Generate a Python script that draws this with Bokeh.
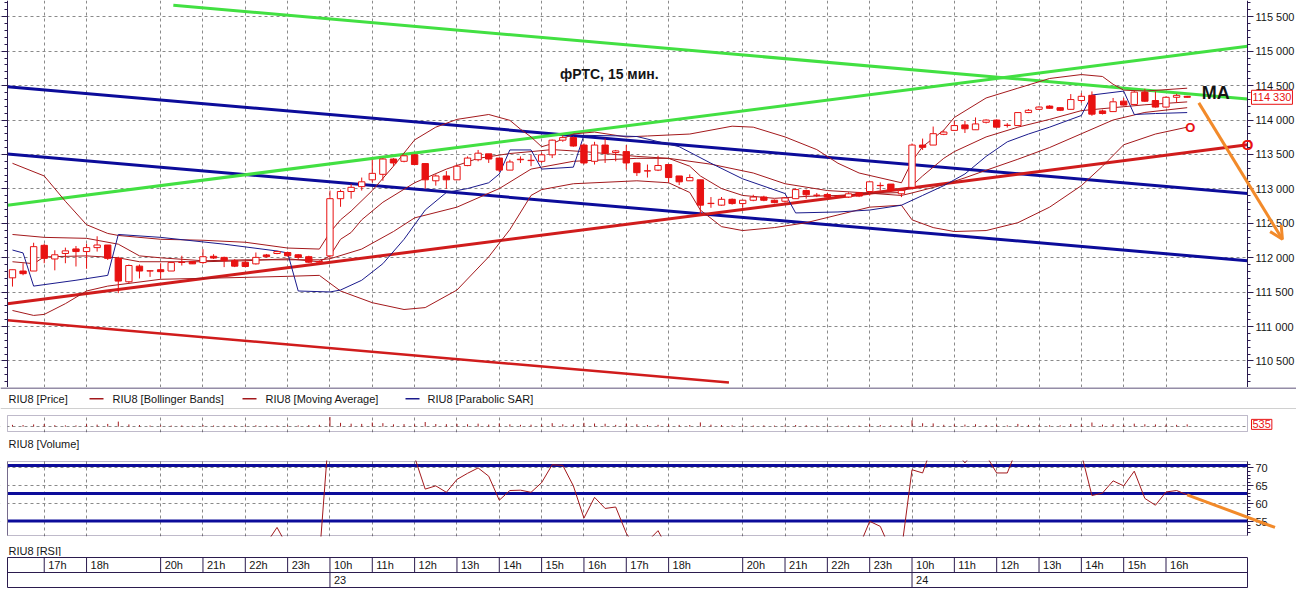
from bokeh.plotting import figure
from bokeh.layouts import column
from bokeh.models import (Range1d, FixedTicker, SingleIntervalTicker, CustomJSTickFormatter,
                          Label, Span, Arrow, OpenHead, LinearAxis, BoxAnnotation)
from bokeh.core.properties import value
from bokeh.embed import file_html
from bokeh.resources import INLINE

FONT = "Liberation Sans"

# ---------------- data ----------------
bars = list(range(112))
opens = [111707, 111806, 111806, 112179, 111981, 112061, 112127, 112089, 112146, 112184,
         111990, 111650, 111877, 111806, 111825, 111806, 111930, 111943, 111929, 112020,
         112004, 111957, 111933, 111910, 112040, 112061, 112075, 112042, 112014, 111934,
         112026, 112857, 112961, 113032, 113131, 113211, 113433, 113400, 113494, 113367,
         113117, 113187, 113131, 113338, 113423, 113508, 113447, 113272, 113423, 113410,
         113400, 113494, 113707, 113744, 113636, 113400, 113636, 113527, 113541, 113376,
         113260, 113272, 113353, 113187, 113117, 113131, 112786, 112763, 112848, 112786,
         112834, 112881, 112834, 112820, 112857, 112975, 112905, 112918, 112890, 112881,
         112942, 112961, 113046, 113069, 112928, 113022, 113636, 113636, 113792, 113849,
         113929, 113858, 113967, 113999, 113920, 113919, 114108, 114155, 114202, 114179,
         114155, 114283, 114358, 114132, 114122, 114274, 114226, 114405, 114283, 114188,
         114330, 114344]
highs = [111825, 111919, 112217, 112203, 112108, 112146, 112170, 112203, 112311, 112184,
         112014, 111901, 111901, 111816, 111919, 111929, 112028, 111943, 112122, 112050,
         112014, 111980, 111960, 112075, 112054, 112099, 112089, 112050, 112028, 111960,
         112975, 112989, 113069, 113164, 113423, 113447, 113447, 113494, 113504, 113367,
         113211, 113258, 113353, 113471, 113565, 113508, 113447, 113423, 113471, 113494,
         113527, 113716, 113777, 113763, 113659, 113683, 113730, 113565, 113636, 113376,
         113353, 113480, 113353, 113187, 113211, 113131, 112881, 112881, 112860, 112840,
         112914, 112900, 112845, 112880, 113008, 112990, 112940, 112940, 112910, 112950,
         112955, 113102, 113093, 113069, 112990, 113659, 113730, 113905, 113850, 113990,
         113990, 114037, 114010, 114010, 113955, 114108, 114160, 114200, 114215, 114185,
         114377, 114391, 114415, 114150, 114320, 114320, 114424, 114453, 114415, 114344,
         114380, 114350]
lows = [111580, 111745, 111806, 111919, 111816, 111919, 111872, 111839, 112089, 111967,
        111485, 111627, 111698, 111721, 111698, 111806, 111886, 111910, 111910, 111981,
        111863, 111863, 111860, 111900, 112000, 112050, 112014, 111980, 111925, 111910,
        111990, 112739, 112857, 112975, 113093, 113117, 113329, 113386, 113353, 113000,
        113046, 113000, 113131, 113329, 113400, 113376, 113244, 113272, 113376, 113329,
        113376, 113447, 113683, 113612, 113353, 113353, 113376, 113400, 113282, 113187,
        113164, 113258, 113093, 113055, 113117, 112631, 112725, 112753, 112770, 112725,
        112820, 112820, 112790, 112800, 112857, 112857, 112880, 112870, 112870, 112870,
        112880, 112905, 112975, 112960, 112880, 113000, 113565, 113636, 113780, 113849,
        113811, 113858, 113950, 113896, 113890, 113919, 114100, 114150, 114165, 114130,
        114155, 114250, 114061, 114080, 114122, 114210, 114220, 114264, 114179, 114179,
        114250, 114325]
closes = [111825, 111768, 112160, 111990, 112042, 112099, 112089, 112146, 112184, 111990,
          111660, 111886, 111806, 111810, 111797, 111929, 111935, 111910, 112014, 111995,
          111957, 111877, 111872, 112004, 112014, 112089, 112028, 112004, 111934, 111945,
          112857, 112961, 113022, 113102, 113225, 113433, 113376, 113480, 113353, 113131,
          113187, 113131, 113329, 113447, 113518, 113433, 113272, 113390, 113430, 113415,
          113494, 113707, 113744, 113622, 113376, 113636, 113518, 113551, 113376, 113235,
          113262, 113339, 113164, 113102, 113164, 112763, 112790, 112848, 112786, 112834,
          112881, 112834, 112800, 112867, 112989, 112914, 112908, 112881, 112893, 112928,
          112895, 113102, 113050, 112975, 112975, 113636, 113603, 113801, 113825, 113919,
          113872, 113943, 113999, 113896, 113925, 114108, 114141, 114188, 114170, 114141,
          114297, 114344, 114085, 114094, 114264, 114217, 114405, 114273, 114188, 114330,
          114358, 114330]
volumes = [420, 380, 520, 610, 350, 300, 280, 560, 470, 640,
           1200, 520, 380, 260, 300, 240, 280, 200, 380, 260,
           240, 300, 280, 320, 220, 260, 300, 280, 360, 420,
           2300, 900, 700, 650, 980, 820, 540, 600, 520, 1100,
           620, 580, 640, 560, 700, 480, 760, 540, 420, 460,
           500, 820, 560, 520, 900, 740, 680, 420, 700, 560,
           380, 420, 520, 400, 380, 1000, 460, 360, 300, 280,
           260, 300, 240, 280, 380, 320, 220, 240, 200, 260,
           240, 520, 360, 300, 280, 1500, 800, 760, 440, 520,
           480, 560, 380, 420, 300, 640, 400, 360, 320, 300,
           620, 520, 980, 480, 560, 420, 700, 560, 520, 480,
           420, 535]

bb_upper_idx = [0, 3, 5, 7, 9, 10, 14, 18, 22, 26, 29, 30, 31, 32, 34, 36, 38, 40, 42, 45,
                47, 48, 49, 50, 51, 53, 55, 58, 60, 64, 68, 70, 73, 76, 78, 80, 84, 85, 86, 88,
                89, 92, 95, 98, 101, 103, 104, 105, 107, 111]
bb_upper = [113371, 113187, 112819, 112479, 112352, 112323, 112267, 112253, 112224, 112140,
            112125, 112366, 112550, 112678, 112975, 113329, 113711, 113896, 114009, 114080,
            113995, 113867, 113754, 113612, 113655, 113797, 113825, 113754, 113768, 113796,
            113910, 113896, 113754, 113570, 113372, 113230, 113088, 113400, 113612, 113853,
            114037, 114320, 114462, 114603, 114660, 114632, 114519, 114434, 114420, 114462]
bb_mid_idx = [0, 3, 7, 10, 12, 14, 18, 22, 26, 29, 30, 33, 36, 38, 42, 46, 49, 53, 59, 62,
              66, 70, 73, 77, 80, 84, 85, 88, 90, 92, 95, 98, 101, 104, 107, 111]
bb_mid = [112337, 112295, 112281, 112196, 112026, 111998, 111955, 111969, 111969, 111969,
          111984, 112125, 112380, 112578, 112734, 113004, 113287, 113400, 113443, 113443,
          113358, 113230, 113074, 112975, 112947, 112904, 112940, 113060, 113160, 113270,
          113430, 113600, 113800, 114000, 114110, 114179]
bb_lower_idx = [0, 2, 3, 5, 7, 9, 14, 22, 26, 29, 30, 31, 34, 37, 39, 42, 45, 47, 49, 50,
                53, 59, 62, 64, 65, 67, 69, 72, 75, 78, 81, 84, 85, 87, 89, 92, 95, 98, 101, 103,
                105, 108, 111]
bb_lower = [111233, 111161, 111176, 111332, 111516, 111587, 111686, 111714, 111729, 111743,
            111629, 111516, 111346, 111247, 111275, 111530, 112012, 112408, 112904, 112989,
            113074, 113117, 113088, 112947, 112692, 112451, 112394, 112437, 112508, 112621,
            112734, 112762, 112550, 112437, 112380, 112394, 112508, 112734, 113046, 113329,
            113640, 113796, 113896]
ma_idx = [0, 2, 3, 7, 10, 12, 18, 22, 26, 29, 30, 31, 32, 33, 35, 38, 41, 44, 47, 49,
          51, 54, 59, 62, 64, 65, 67, 69, 72, 75, 78, 81, 84, 85, 86, 88, 89, 92, 95, 98,
          101, 104, 107, 111]
ma = [111941, 111913, 112012, 112026, 111998, 111941, 111941, 111955, 111984, 111941,
      112026, 112267, 112366, 112550, 112805, 113088, 113287, 113443, 113513, 113541,
      113570, 113541, 113471, 113443, 113329, 113187, 113004, 112904, 112862, 112890,
      112904, 112932, 112947, 113046, 113187, 113443, 113541, 113754, 113896, 114009,
      114136, 114179, 114221, 114263]
sar_idx = [0, 1, 2, 6, 9, 10, 14, 20, 25, 26, 27, 30, 31, 33, 35, 37, 39, 41, 43, 45,
           46, 47, 49, 50, 53, 54, 57, 59, 63, 66, 69, 73, 74, 78, 81, 84, 86, 88, 90, 92,
           94, 96, 98, 100, 101, 102, 105, 106, 108, 111]
sar = [112111, 112069, 111587, 111672, 111743, 112337, 112295, 112196, 112097, 112069,
       111516, 111502, 111530, 111672, 111913, 112267, 112692, 112947, 113004, 113088,
       113216, 113565, 113565, 113287, 113315, 113777, 113770, 113760, 113612, 113372,
       113145, 112932, 112650, 112664, 112692, 112762, 112904, 113046, 113216, 113471,
       113683, 113796, 113896, 114009, 114065, 114363, 114420, 114080, 114094, 114108]
rsi_idx = [22, 24, 25, 26, 29, 30, 31, 34, 37, 38, 39, 40, 41, 42, 43, 44, 45, 46, 47, 48,
           49, 50, 51, 52, 53, 54, 55, 56, 57, 58, 59, 60, 61, 62, 65, 72, 80, 81, 82, 83,
           84, 85, 86, 87, 89, 90, 91, 92, 93, 94, 95, 98, 101, 102, 103, 104, 105, 106, 107, 108,
           109, 110, 111]
rsi = [46, 49, 53.4, 48, 45, 84, 86, 88, 82, 73, 64.1, 65.0, 63.2, 66.8, 68.5, 70.0, 67.7, 61.0, 63.7, 63.8,
       63.2, 65.9, 70.9, 70.7, 65.0, 56.0, 61.8, 58.7, 59.1, 51.8, 47, 49.5, 52.5, 47, 38, 44, 48, 55.1, 53.7, 47,
       47, 69.5, 68.6, 77, 75, 71.4, 75, 73.5, 68.6, 68.6, 76, 80, 74, 62.3, 63.0, 66.4, 65.0, 69.1, 61.5, 59.6,
       63.3, 63.7, 62.5]
rsi_levels = [70.7, 62.9, 55.2]

hour_idx = [3, 7, 14, 18, 22, 26, 30, 34, 38, 42, 46, 50, 54, 58, 62, 69, 73, 77, 81,
            85, 89, 93, 97, 101, 105, 109]
hour_labels = ["17h", "18h", "20h", "21h", "22h", "23h", "10h", "11h", "12h", "13h", "14h",
               "15h", "16h", "17h", "18h", "20h", "21h", "22h", "23h", "10h", "11h", "12h",
               "13h", "14h", "15h", "16h"]
day_idx = [30, 85]
day_labels = ["23", "24"]

# analyst-drawn lines and marks
chan_x = [-0.47, 116.7]
blue_upper_y = [114482, 112932]
blue_lower_y = [113505, 111955]
green_up_y = [112762, 115071]
green_down_x = [15.2, 116.7]
green_down_y = [115666, 114306]
red_trend_y = [111332, 113640]
red_low_x = [-0.47, 67.7]
red_low_y = [111091, 110185]
arrow_x = [112.1, 120.0]
arrow_y = [114249, 112267]
rsi_arrow_x = [111.0, 119.3]
rsi_arrow_y = [62.5, 53.4]
legend_labels = ["RIU8 [Price]", "RIU8 [Bollinger Bands]", "RIU8 [Moving Average]", "RIU8 [Parabolic SAR]"]

# ---------------- geometry / style ----------------
VX0, X1 = chan_x                      # left / right edges of the chart area (bar index)
W = 1296
PX_L, PX_R = 7, 1247                  # pixel positions of VX0 and X1
S = (PX_R - PX_L) / (X1 - VX0)
XS = VX0 - PX_L / S
XE = XS + W / S

FRAME = "#2b1b4e"
GRID = "#8a8a8a"
RED = "#e81212"
DARKRED = "#a3191c"
NAVY = "#1a1a8c"
BLUE = "#0c0c9a"
GREEN = "#42e042"
TREND = "#d01c1c"
ORANGE = "#f28a2a"
TXT = "#151515"


def no_align(f):
    if "frame_align" in f.properties():
        f.frame_align = False
    return f


def full_fig(h, yr, top, bottom):
    f = figure(width=W, height=h, x_range=Range1d(XS, XE), y_range=yr,
               output_backend="svg", toolbar_location=None,
               x_axis_location=None, y_axis_location=None,
               min_border_left=0, min_border_right=0,
               min_border_top=top, min_border_bottom=bottom,
               outline_line_color=None,
               background_fill_color="white", border_fill_color="white")
    no_align(f)
    for g in (f.xgrid, f.ygrid):
        g.grid_line_color = GRID
        g.grid_line_dash = "3 3"
        g.grid_line_width = 1
    f.xgrid.ticker = FixedTicker(ticks=hour_idx)
    # white margins outside the chart area (hide grid there)
    f.add_layout(BoxAnnotation(right=VX0, fill_color="white", fill_alpha=1.0,
                               line_alpha=0, level="underlay"))
    f.add_layout(BoxAnnotation(left=X1, fill_color="white", fill_alpha=1.0,
                               line_alpha=0, level="underlay"))
    return f


def style_axis(ax, labels=True):
    ax.axis_line_color = FRAME
    ax.major_tick_line_color = FRAME
    ax.minor_tick_line_color = FRAME
    ax.major_tick_out = 6
    ax.major_tick_in = 0
    ax.minor_tick_out = 3
    ax.minor_tick_in = 0
    ax.major_label_text_font = FONT
    ax.major_label_text_font_size = "11px"
    ax.major_label_text_color = TXT
    ax.major_label_standoff = 2
    if not labels:
        ax.formatter = CustomJSTickFormatter(code="return '';")


def boxed_label(**kw):
    try:
        return Label(padding=1, **kw)
    except AttributeError:
        return Label(**kw)


def strip(h):
    s = figure(width=W, height=h, x_range=Range1d(0, W), y_range=Range1d(0, h),
               output_backend="svg", toolbar_location=None,
               x_axis_location=None, y_axis_location=None,
               min_border_left=0, min_border_right=0, min_border_top=0, min_border_bottom=0,
               outline_line_color=None, background_fill_color="white",
               border_fill_color="white")
    no_align(s)
    s.grid.visible = False
    return s


# ---------------- price panel ----------------
PY0, PY1 = 110114, 115736
p = full_fig(387, Range1d(PY0, PY1), 0, 0)
p.ygrid.ticker = SingleIntervalTicker(interval=500)
yr_ax = LinearAxis(fixed_location=X1, ticker=SingleIntervalTicker(interval=500, num_minor_ticks=5),
                   formatter=CustomJSTickFormatter(
                       code=r"return Math.round(tick).toString().replace(/\B(?=(\d{3})+(?!\d))/g, ' ');"))
style_axis(yr_ax)
p.add_layout(yr_ax, "right")
yl_ax = LinearAxis(fixed_location=VX0, ticker=SingleIntervalTicker(interval=500, num_minor_ticks=5))
style_axis(yl_ax, labels=False)
p.add_layout(yl_ax, "left")

p.line(chan_x, blue_upper_y, line_color=BLUE, line_width=3)
p.line(chan_x, blue_lower_y, line_color=BLUE, line_width=3)
p.line(chan_x, green_up_y, line_color=GREEN, line_width=3)
p.line(green_down_x, green_down_y, line_color=GREEN, line_width=3)
p.line(chan_x, red_trend_y, line_color=TREND, line_width=3)
p.line(red_low_x, red_low_y, line_color=TREND, line_width=2.5)

p.line(bb_upper_idx, bb_upper, line_color=DARKRED, line_width=1)
p.line(bb_mid_idx, bb_mid, line_color=DARKRED, line_width=1)
p.line(bb_lower_idx, bb_lower, line_color=DARKRED, line_width=1)
p.line(ma_idx, ma, line_color=DARKRED, line_width=1)
p.line(sar_idx, sar, line_color=NAVY, line_width=1)

up = [i for i in bars if closes[i] >= opens[i]]
dn = [i for i in bars if closes[i] < opens[i]]
p.segment(x0=bars, y0=lows, x1=bars, y1=highs, line_color=RED, line_width=1)
p.vbar(x=up, bottom=[opens[i] for i in up], top=[closes[i] for i in up], width=0.6,
       fill_color="white", line_color=RED, line_width=1)
p.vbar(x=dn, bottom=[closes[i] for i in dn], top=[opens[i] for i in dn], width=0.6,
       fill_color=RED, line_color=RED, line_width=1)

p.add_layout(Label(x=56.4, y=114674, text="фРТС, 15 мин.", text_font=FONT,
                   text_font_style="bold", text_font_size="14px", text_color=TXT,
                   text_align="center", text_baseline="middle"))
p.add_layout(Label(x=113.7, y=114390, text="MA", text_font=FONT, text_font_style="bold",
                   text_font_size="18px", text_color=TXT,
                   text_align="center", text_baseline="middle"))
p.add_layout(Label(x=bb_lower_idx[-1] + 0.3, y=bb_lower[-1], text="O", text_font=FONT,
                   text_font_style="bold", text_font_size="13px", text_color=RED,
                   text_align="center", text_baseline="middle"))
p.add_layout(Label(x=X1, y=red_trend_y[1], text="O", text_font=FONT,
                   text_font_style="bold", text_font_size="15px", text_color=RED,
                   text_align="center", text_baseline="middle"))
p.add_layout(Arrow(x_start=arrow_x[0], y_start=arrow_y[0], x_end=arrow_x[1], y_end=arrow_y[1],
                   line_color=ORANGE, line_width=3,
                   end=OpenHead(size=13, line_color=ORANGE, line_width=3)))
p.add_layout(boxed_label(x=X1, y=closes[-1], x_offset=4, text="114 330", text_font=FONT,
                         text_font_size="11px", text_color=RED, text_baseline="middle",
                         border_line_color=RED, background_fill_color="white"))

# ---------------- legend strip ----------------
leg = strip(22)
leg.text(x=[8, 112, 265, 427], y=[10.8] * 4, text=legend_labels, text_font=value(FONT),
         text_font_size="11px", text_color=TXT, text_baseline="middle")
leg.segment(x0=[89, 242, 405], y0=[10.8] * 3, x1=[103, 256, 419], y1=[10.8] * 3,
            line_color=[DARKRED, DARKRED, NAVY], line_width=1.5)
leg.add_layout(Span(location=21.5, dimension="width", line_color=FRAME, line_width=1))
leg.add_layout(Span(location=0.5, dimension="width", line_color="#a0a0a0", line_width=1))

# ---------------- volume panel ----------------
VK = 240.0
vol = full_fig(25, Range1d(-5.9 * VK, 12.1 * VK), 5, 2)
vol.ygrid.ticker = FixedTicker(ticks=[0])
vol.segment(x0=bars, y0=[0] * len(bars), x1=bars, y1=volumes, line_color=DARKRED, line_width=1)
vol.add_layout(BoxAnnotation(left=VX0, right=X1, bottom=-4.9 * VK, top=11.1 * VK,
                             fill_alpha=0, line_color=FRAME, line_width=1))
vol.add_layout(boxed_label(x=X1, y=volumes[-1], x_offset=4, text=str(volumes[-1]), text_font=FONT,
                           text_font_size="11px", text_color=RED, text_baseline="middle",
                           border_line_color=RED, background_fill_color="white"))

vlab = strip(17)
vlab.text(x=[8], y=[8], text=["RIU8 [Volume]"], text_font=value(FONT), text_font_size="11px",
          text_color=TXT, text_baseline="middle")

# ---------------- RSI panel ----------------
R0, R1 = 51.15, 71.8
RK = 74 / (R1 - R0)
r = full_fig(86, Range1d(R0 - 1 / RK, R1 + 1 / RK), 9, 1)
r.ygrid.ticker = FixedTicker(ticks=[55, 60, 65, 70])
rr_ax = LinearAxis(fixed_location=X1, bounds=(R0, R1),
                   ticker=FixedTicker(ticks=[55, 60, 65, 70], minor_ticks=list(range(52, 72))))
style_axis(rr_ax)
r.add_layout(rr_ax, "right")
rl_ax = LinearAxis(fixed_location=VX0, bounds=(R0, R1),
                   ticker=FixedTicker(ticks=[55, 60, 65, 70], minor_ticks=list(range(52, 72))))
style_axis(rl_ax, labels=False)
r.add_layout(rl_ax, "left")
for lvl in rsi_levels:
    r.line([VX0, X1], [lvl, lvl], line_color=BLUE, line_width=3)
r.line(rsi_idx, rsi, line_color=DARKRED, line_width=1)
r.add_layout(BoxAnnotation(right=VX0, fill_color="white", fill_alpha=1.0, line_alpha=0))
r.add_layout(BoxAnnotation(left=VX0, right=X1, bottom=R0, top=R1,
                           fill_alpha=0, line_color=FRAME, line_width=1))
r.add_layout(Arrow(x_start=rsi_arrow_x[0], y_start=rsi_arrow_y[0], x_end=rsi_arrow_x[1],
                   y_end=rsi_arrow_y[1], line_color=ORANGE, line_width=3, end=None))

rlab = strip(19)
rlab.text(x=[8], y=[6], text=["RIU8 [RSI]"], text_font=value(FONT), text_font_size="11px",
          text_color=TXT, text_baseline="middle")

# ---------------- time axis ----------------
t = figure(width=W, height=34, x_range=Range1d(VX0, X1), y_range=Range1d(0, 2),
           output_backend="svg", toolbar_location=None,
           x_axis_location=None, y_axis_location=None,
           min_border_left=PX_L, min_border_right=W - PX_R,
           min_border_top=1, min_border_bottom=3,
           outline_line_color=FRAME, background_fill_color="white", border_fill_color="white")
no_align(t)
t.grid.visible = False
t.segment(x0=hour_idx, y0=[1] * len(hour_idx), x1=hour_idx, y1=[2] * len(hour_idx),
          line_color=FRAME, line_width=1)
t.segment(x0=day_idx, y0=[0] * len(day_idx), x1=day_idx, y1=[1] * len(day_idx),
          line_color=FRAME, line_width=1)
t.add_layout(Span(location=1, dimension="width", line_color=FRAME, line_width=1))
t.text(x=hour_idx, y=[1.5] * len(hour_idx), text=hour_labels, x_offset=4,
       text_font=value(FONT), text_font_size="11px", text_color=TXT, text_baseline="middle")
t.text(x=day_idx, y=[0.5] * len(day_idx), text=day_labels, x_offset=4,
       text_font=value(FONT), text_font_size="11px", text_color=TXT, text_baseline="middle")

layout = column(p, leg, vol, vlab, r, rlab, t, spacing=0)
open("out.html", "w").write(file_html(layout, INLINE, title="RIU8"))
